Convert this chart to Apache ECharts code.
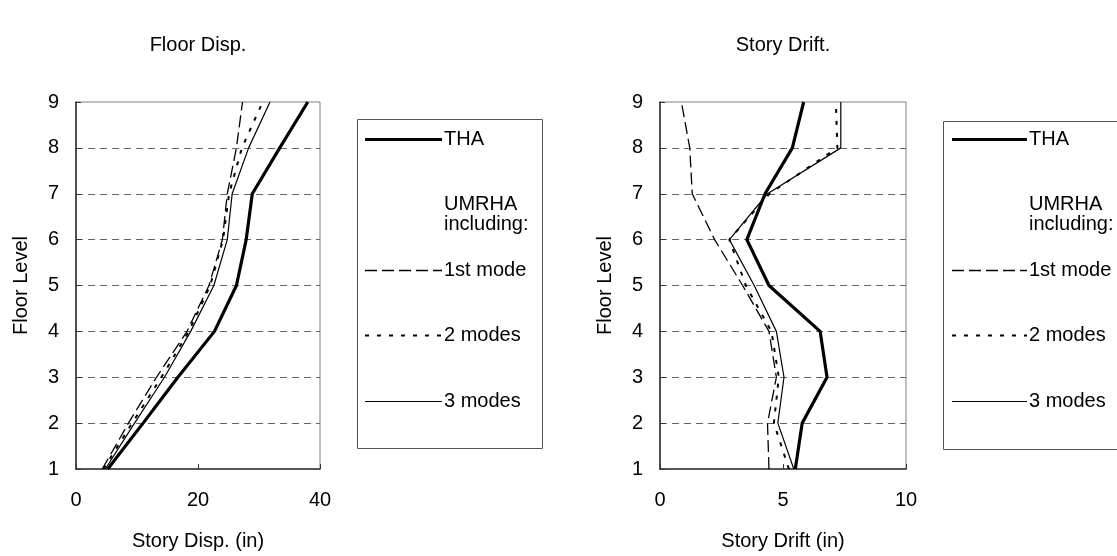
<!DOCTYPE html>
<html>
<head>
<meta charset="utf-8">
<script src="https://cdn.jsdelivr.net/npm/echarts@6/dist/echarts.min.js"></script>
<style>
  html, body { margin: 0; padding: 0; background: #fff; }
  #chart { width: 1117px; height: 556px; }
</style>
</head>
<body>
<div id="chart"></div>
<script>
// Floor levels (y axis)
const levels = [1, 2, 3, 4, 5, 6, 7, 8, 9];

// Floor displacement (in), levels 1..9
const dispTHA   = [5.2, 11.0, 16.7, 22.7, 26.3, 27.9, 28.9, 33.4, 38.0];
const disp1Mode = [4.3, 8.6, 13.2, 18.2, 21.8, 24.0, 24.8, 26.3, 27.3];
const disp2Mode = [4.5, 9.2, 14.0, 18.5, 22.0, 24.1, 25.1, 27.2, 30.6];
const disp3Mode = [4.8, 9.6, 14.5, 18.8, 22.6, 24.8, 25.6, 28.3, 31.8];

// Story drift (in), levels 1..9
const driftTHA   = [5.50, 5.78, 6.79, 6.51, 4.43, 3.53, 4.27, 5.38, 5.84];
const drift1Mode = [4.43, 4.37, 4.73, 4.43, 3.36, 2.22, 1.31, 1.21, 0.87];
const drift2Mode = [5.24, 4.63, 4.83, 4.53, 3.49, 2.82, 4.45, 7.21, 7.15];
const drift3Mode = [5.44, 4.79, 5.04, 4.73, 3.83, 2.82, 4.37, 7.35, 7.35];

const dispTicks = [0, 20, 40];
const driftTicks = [0, 5, 10];

const seriesNames = ['THA', '1st mode', '2 modes', '3 modes'];

const FONT = '"Liberation Sans", Arial, sans-serif';
const FS = 20;

const chart = echarts.init(document.getElementById('chart'), null, { renderer: 'canvas' });

function pairs(vals) { return vals.map((v, i) => [v, levels[i]]); }

const styles = {
  'THA':      { width: 3.2, type: 'solid' },
  '1st mode': { width: 1.3, type: [12, 5] },
  '2 modes':  { width: 2,   type: [4, 8] },
  '3 modes':  { width: 1.2, type: 'solid' }
};

function series(name, vals, idx, z) {
  return {
    name: name, type: 'line', xAxisIndex: idx, yAxisIndex: idx,
    data: pairs(vals), symbol: 'none', z: z, silent: true,
    lineStyle: { color: '#000', width: styles[name].width, type: styles[name].type }
  };
}

function xAxisCfg(gridIndex, ticks, name) {
  return {
    gridIndex: gridIndex, type: 'value',
    min: ticks[0], max: ticks[ticks.length - 1], interval: ticks[1] - ticks[0],
    name: name, nameLocation: 'middle', nameGap: 62,
    nameTextStyle: { color: '#000', fontFamily: FONT, fontSize: FS },
    axisLine: { onZero: false, lineStyle: { color: '#333', width: 1.6 } },
    axisTick: { inside: true, length: 5, lineStyle: { color: '#333' } },
    axisLabel: { color: '#000', fontFamily: FONT, fontSize: FS, margin: 21 },
    splitLine: { show: false }
  };
}

function yAxisCfg(gridIndex) {
  return {
    gridIndex: gridIndex, type: 'value', min: 1, max: 9, interval: 1,
    name: 'Floor Level', nameLocation: 'middle', nameGap: 45, nameRotate: 90,
    nameTextStyle: { color: '#000', fontFamily: FONT, fontSize: FS },
    axisLine: { lineStyle: { color: '#333', width: 1.6 } },
    axisTick: { inside: true, length: 5, lineStyle: { color: '#333' } },
    axisLabel: { color: '#000', fontFamily: FONT, fontSize: FS, margin: 17 },
    splitLine: {
      show: true, showMinLine: false, showMaxLine: false,
      lineStyle: { color: '#666', width: 1, type: [7, 5] }
    }
  };
}

// Framed key beside each panel: sample line, label, plus the UMRHA caption
const keyRows = { 'THA': 139.5, '1st mode': 270.5, '2 modes': 335.5, '3 modes': 401.5 };
const keyBoxes = [
  { x: 357, y: 119, w: 185, h: 329, lineX: 365, lineW: 77 },
  { x: 943, y: 121, w: 185, h: 328, lineX: 952, lineW: 75 }
];
const graphics = [];
keyBoxes.forEach(b => {
  const tx = b.lineX + b.lineW + 2;
  graphics.push({
    type: 'rect', shape: { x: b.x + 0.5, y: b.y + 0.5, width: b.w, height: b.h },
    style: { fill: 'none', stroke: '#555', lineWidth: 1 }, silent: true, z: 0
  });
  seriesNames.forEach(n => {
    const y = keyRows[n];
    graphics.push({
      type: 'line', silent: true,
      shape: { x1: b.lineX, y1: y, x2: b.lineX + b.lineW, y2: y },
      style: {
        stroke: '#000', lineWidth: styles[n].width,
        lineDash: Array.isArray(styles[n].type) ? styles[n].type : null
      }
    });
    graphics.push({
      type: 'text', x: tx, y: y, silent: true,
      style: { text: n, fill: '#000', font: FS + 'px ' + FONT, verticalAlign: 'middle' }
    });
  });
  graphics.push({
    type: 'text', x: tx, y: 204, silent: true,
    style: { text: 'UMRHA', fill: '#000', font: FS + 'px ' + FONT, verticalAlign: 'middle' }
  });
  graphics.push({
    type: 'text', x: tx, y: 224, silent: true,
    style: { text: 'including:', fill: '#000', font: FS + 'px ' + FONT, verticalAlign: 'middle' }
  });
});

const titleStyle = { color: '#000', fontFamily: FONT, fontSize: FS, fontWeight: 'normal' };

const option = {
  backgroundColor: '#fff',
  animation: false,
  title: [
    { text: 'Floor Disp.', left: 198, top: 35, textAlign: 'center', padding: 0, textStyle: titleStyle },
    { text: 'Story Drift.', left: 783, top: 35, textAlign: 'center', padding: 0, textStyle: titleStyle }
  ],
  grid: [
    { left: 76, top: 102, width: 244, height: 368, show: true, borderColor: '#808080', borderWidth: 1, backgroundColor: 'transparent' },
    { left: 660, top: 102, width: 246, height: 369, show: true, borderColor: '#808080', borderWidth: 1, backgroundColor: 'transparent' }
  ],
  xAxis: [
    xAxisCfg(0, dispTicks, 'Story Disp. (in)'),
    xAxisCfg(1, driftTicks, 'Story Drift (in)')
  ],
  yAxis: [yAxisCfg(0), yAxisCfg(1)],
  graphic: graphics,
  series: [
    series('1st mode', disp1Mode, 0, 2),
    series('2 modes', disp2Mode, 0, 3),
    series('3 modes', disp3Mode, 0, 4),
    series('THA', dispTHA, 0, 5),
    series('1st mode', drift1Mode, 1, 2),
    series('2 modes', drift2Mode, 1, 3),
    series('3 modes', drift3Mode, 1, 4),
    series('THA', driftTHA, 1, 5)
  ]
};

chart.setOption(option);
</script>
</body>
</html>
